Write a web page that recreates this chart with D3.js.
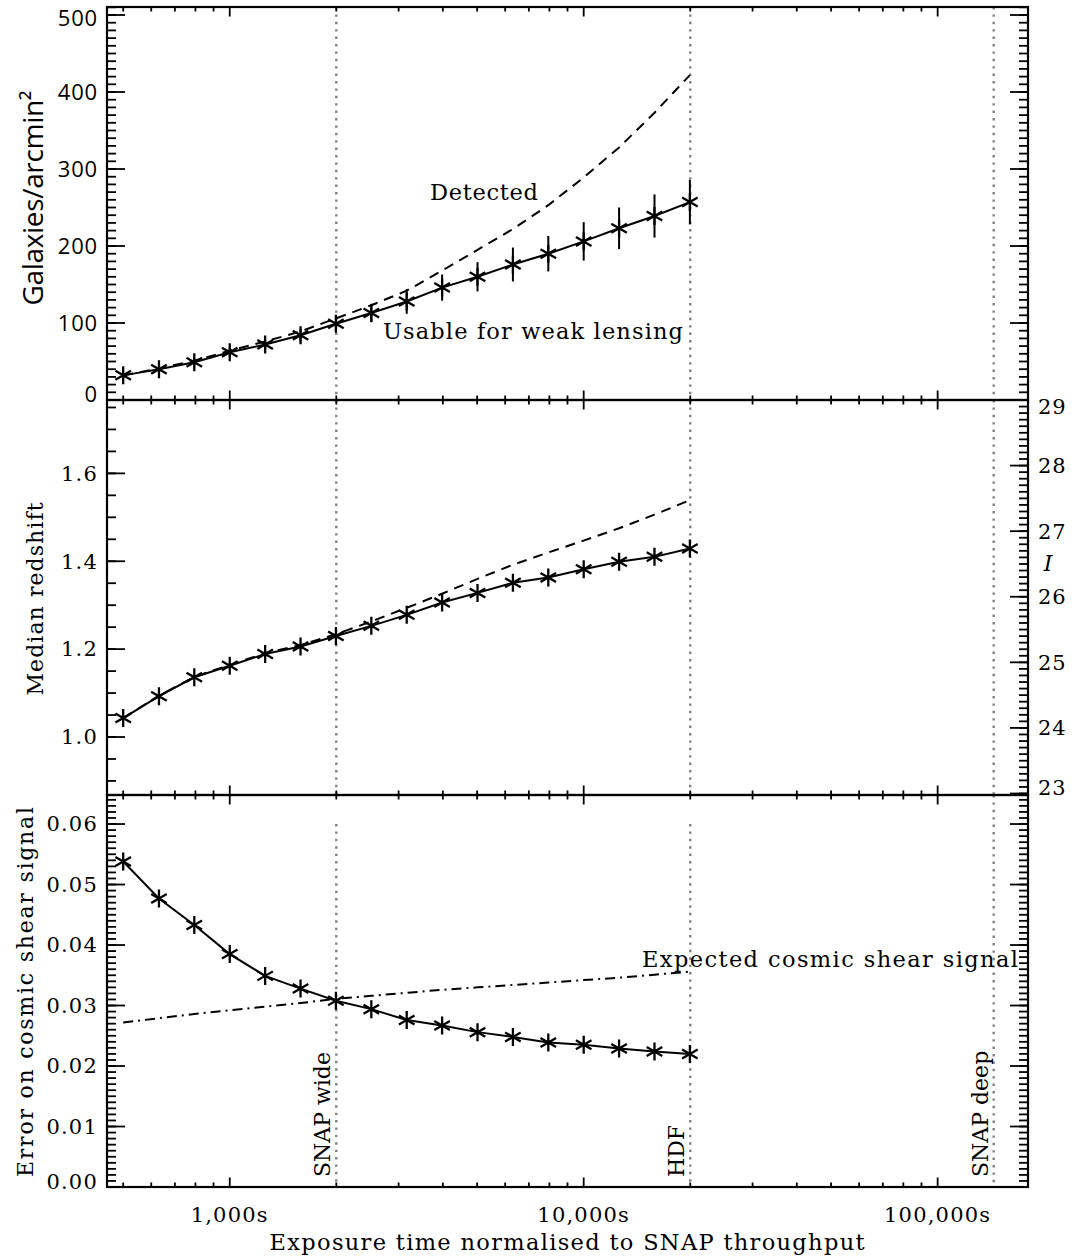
<!DOCTYPE html>
<html>
<head>
<meta charset="utf-8">
<script src="https://cdn.jsdelivr.net/npm/d3@7"></script>
<style>
  body { margin: 0; background: #fff; }
  svg { display: block; }
</style>
</head>
<body>
<div id="chart"></div>
<script>
// exposure times (s), one star per step of 0.1 dex
const exposure = [500, 631, 794, 1000, 1259, 1585, 1995, 2512, 3162, 3981, 5012, 6310, 7943, 10000, 12589, 15849, 19953];

// top panel: galaxies / arcmin^2
const usableDensity = [32, 40, 49, 62, 72, 84, 99, 113, 128, 146, 160, 176, 190, 206, 223, 239, 257];
const usableError = [3, 4, 5, 6, 7, 8, 9, 12, 16, 17, 19, 22, 23, 25, 27, 28, 29];
const detectedDensity = [32, 41, 51, 64, 76, 89, 106, 123, 142, 168, 195, 222, 253, 289, 328, 373, 422];

// middle panel: median redshift
const usableRedshift = [1.043, 1.093, 1.136, 1.162, 1.189, 1.206, 1.230, 1.253, 1.278, 1.306, 1.328, 1.351, 1.363, 1.382, 1.399, 1.410, 1.429];
const detectedRedshift = [1.043, 1.094, 1.137, 1.164, 1.191, 1.209, 1.234, 1.263, 1.294, 1.326, 1.360, 1.392, 1.420, 1.447, 1.475, 1.506, 1.539];

// bottom panel: error on cosmic shear vs expected signal
const shearError = [0.0538, 0.0477, 0.0433, 0.0385, 0.0349, 0.0328, 0.0308, 0.0294, 0.0276, 0.0267, 0.0256, 0.0248, 0.0239, 0.0235, 0.0229, 0.0224, 0.0220];
const shearSignal = [0.0272, 0.0279, 0.0286, 0.0292, 0.0298, 0.0304, 0.0311, 0.0316, 0.0321, 0.0326, 0.0330, 0.0334, 0.0338, 0.0342, 0.0346, 0.0351, 0.0356];

// marker lines
const surveyTimes = [2000, 20000, 144000];
const surveyNames = ["SNAP wide", "HDF", "SNAP deep"];

// tick labels
const xTickValues = [1000, 10000, 100000];
const xTickLabels = ["1,000s", "10,000s", "100,000s"];
const densityTicks = [0, 100, 200, 300, 400, 500];
const redshiftTicks = [1.0, 1.2, 1.4, 1.6];
const magTicks = [23, 24, 25, 26, 27, 28, 29];
const shearTicks = [0, 0.01, 0.02, 0.03, 0.04, 0.05, 0.06];

const width = 1082;
const height = 1257;
const left = 107;
const right = 1028;
const serif = "'DejaVu Serif', serif";
const sans = "'Open Sans', sans-serif";

const svg = d3.select("#chart")
  .append("svg")
  .attr("width", width)
  .attr("height", height)
  .attr("viewBox", `0 0 ${width} ${height}`);

const x = d3.scaleLog().domain([450, 180000]).range([left, right]);
const xMinor = x.ticks().filter((t) => !xTickValues.includes(t));

const panels = [
  { top: 7, bottom: 400 },
  { top: 400, bottom: 795 },
  { top: 795, bottom: 1187 }
];
const y1 = d3.scaleLinear().domain([0, 510.4]).range([400, 7]);
const y2 = d3.scaleLinear().domain([0.868, 1.767]).range([795, 400]);
const yMag = d3.scaleLinear().domain([29, 23]).range([400, 793.5]);
const y3 = d3.scaleLinear().domain([0, 0.0648]).range([1187, 795]);

const rows = exposure.map((t, i) => ({
  t,
  usable: usableDensity[i],
  err: usableError[i],
  detected: detectedDensity[i],
  zUsable: usableRedshift[i],
  zDetected: detectedRedshift[i],
  shear: shearError[i],
  signal: shearSignal[i]
}));

// ---- dotted survey lines ----
surveyTimes.forEach((t, i) => {
  panels.forEach((p, k) => {
    let top = p.top;
    if (k === 2 && t < 100000) top = y3(0.06);
    svg.append("line")
      .attr("x1", x(t)).attr("x2", x(t))
      .attr("y1", top).attr("y2", p.bottom)
      .attr("stroke", "#808080")
      .attr("stroke-width", 2.4)
      .attr("stroke-dasharray", "2.4 5");
  });
  svg.append("text")
    .attr("transform", `translate(${x(t) - 6},1177) rotate(-90)`)
    .attr("font-family", serif)
    .attr("font-size", 22)
    .attr("fill", "#000")
    .text(surveyNames[i]);
});

// ---- axes (inward ticks on every side) ----
function xTicks(yPos, dir) {
  const g = svg.append("g");
  g.selectAll("line.minor").data(xMinor).join("line")
    .attr("x1", (d) => x(d)).attr("x2", (d) => x(d))
    .attr("y1", yPos).attr("y2", yPos + dir * 4.5)
    .attr("stroke", "#000").attr("stroke-width", 1.8);
  g.selectAll("line.major").data(xTickValues).join("line")
    .attr("x1", (d) => x(d)).attr("x2", (d) => x(d))
    .attr("y1", yPos).attr("y2", yPos + dir * 9.5)
    .attr("stroke", "#000").attr("stroke-width", 1.8);
}

function yTicks(scale, major, minor, xPos, dir) {
  const g = svg.append("g");
  g.selectAll("line.minor").data(minor).join("line")
    .attr("x1", xPos).attr("x2", xPos + dir * 9)
    .attr("y1", (d) => scale(d)).attr("y2", (d) => scale(d))
    .attr("stroke", "#000").attr("stroke-width", 1.8);
  g.selectAll("line.major").data(major).join("line")
    .attr("x1", xPos).attr("x2", xPos + dir * 18)
    .attr("y1", (d) => scale(d)).attr("y2", (d) => scale(d))
    .attr("stroke", "#000").attr("stroke-width", 1.8);
}

function inRange(scale, start, stop, step) {
  const [a, b] = d3.extent(scale.domain());
  return d3.range(start, stop + step / 2, step)
    .map((v) => +v.toFixed(4))
    .filter((v) => v >= a - 1e-9 && v <= b + 1e-9);
}

panels.forEach((p) => {
  xTicks(p.bottom, -1);
  xTicks(p.top, 1);
});

yTicks(y1, densityTicks, inRange(y1, 0, 510, 10), left, 1);
yTicks(y1, densityTicks, inRange(y1, 0, 510, 10), right, -1);
yTicks(y2, redshiftTicks, inRange(y2, 0.85, 1.8, 0.05), left, 1);
yTicks(yMag, magTicks, inRange(yMag, 22.9, 29, 0.1), right, -1);
yTicks(y3, shearTicks, inRange(y3, 0, 0.065, 0.001), left, 1);
yTicks(y3, shearTicks, inRange(y3, 0, 0.065, 0.001), right, -1);

panels.forEach((p) => {
  svg.append("rect")
    .attr("x", left).attr("y", p.top)
    .attr("width", right - left).attr("height", p.bottom - p.top)
    .attr("fill", "none").attr("stroke", "#000").attr("stroke-width", 2.2);
});

// ---- tick labels ----
function leftLabels(scale, values, fmt, font, size, bottomShift, topShift) {
  const last = values.length - 1;
  svg.append("g").selectAll("text").data(values).join("text")
    .attr("x", 98)
    .attr("y", (d, i) => scale(d) + (i === 0 ? bottomShift : i === last ? topShift : 0))
    .attr("dy", "0.35em")
    .attr("text-anchor", "end")
    .attr("font-family", font)
    .attr("font-size", size)
    .attr("letter-spacing", font === serif ? 1.2 : 0.8)
    .text(fmt);
}
leftLabels(y1, densityTicks, d3.format("d"), sans, 22, -6, 3);
leftLabels(y2, redshiftTicks, d3.format(".1f"), serif, 21, 0, 0);
leftLabels(y3, shearTicks, d3.format(".2f"), serif, 21, -5, 0);

svg.append("g").selectAll("text").data(magTicks).join("text")
  .attr("x", 1038)
  .attr("y", (d) => yMag(d) + (d === 29 ? 7 : d === 23 ? -6 : 0))
  .attr("dy", "0.35em")
  .attr("font-family", serif)
  .attr("font-size", 21)
  .attr("letter-spacing", 1)
  .text((d) => d);

svg.append("text")
  .attr("x", 1048).attr("y", 563).attr("dy", "0.35em")
  .attr("text-anchor", "middle")
  .attr("font-family", serif)
  .attr("font-style", "italic")
  .attr("font-size", 22)
  .text("I");

svg.append("g").selectAll("text").data(xTickValues).join("text")
  .attr("x", (d) => x(d))
  .attr("y", 1222)
  .attr("text-anchor", "middle")
  .attr("font-family", serif)
  .attr("font-size", 21)
  .attr("letter-spacing", 1.2)
  .text((d, i) => xTickLabels[i]);

// ---- axis titles ----
svg.append("text")
  .attr("x", 567).attr("y", 1250)
  .attr("text-anchor", "middle")
  .attr("font-family", serif).attr("font-size", 22.5)
  .attr("textLength", 595).attr("lengthAdjust", "spacing")
  .text("Exposure time normalised to SNAP throughput");

function yTitle(text, cx, cy, len, font, size) {
  svg.append("text")
    .attr("transform", `translate(${cx},${cy}) rotate(-90)`)
    .attr("text-anchor", "middle")
    .attr("font-family", font).attr("font-size", size)
    .attr("textLength", len).attr("lengthAdjust", "spacing")
    .text(text);
}
yTitle("Galaxies/arcmin²", 43, 198, 215, sans, 28);
yTitle("Median redshift", 43, 599, 193, serif, 22);
yTitle("Error on cosmic shear signal", 33, 992, 370, serif, 22);

// ---- data ----
const star = {
  draw(ctx, size) {
    const r = Math.sqrt(size);
    [90, 30, -30].forEach((a) => {
      const dx = r * Math.cos((a * Math.PI) / 180);
      const dy = r * Math.sin((a * Math.PI) / 180);
      ctx.moveTo(dx, -dy);
      ctx.lineTo(-dx, dy);
    });
  }
};
const starPath = d3.symbol().type(star).size(81)();

function series(yScale, key, dash, withStars) {
  const line = d3.line().x((d) => x(d.t)).y((d) => yScale(d[key]));
  svg.append("path")
    .datum(rows)
    .attr("fill", "none")
    .attr("stroke", "#000")
    .attr("stroke-width", 2)
    .attr("stroke-dasharray", dash)
    .attr("d", line);
  if (withStars) {
    svg.append("g").selectAll("path").data(rows).join("path")
      .attr("transform", (d) => `translate(${x(d.t)},${yScale(d[key])})`)
      .attr("d", starPath)
      .attr("fill", "none")
      .attr("stroke", "#000")
      .attr("stroke-width", 2.3);
  }
}

series(y1, "detected", "10 7", false);
series(y1, "usable", null, true);
svg.append("g").selectAll("line").data(rows).join("line")
  .attr("x1", (d) => x(d.t)).attr("x2", (d) => x(d.t))
  .attr("y1", (d) => y1(d.usable - d.err))
  .attr("y2", (d) => y1(d.usable + d.err))
  .attr("stroke", "#000").attr("stroke-width", 2);

series(y2, "zDetected", "10 7", false);
series(y2, "zUsable", null, true);

series(y3, "signal", "10 5 2 5", false);
series(y3, "shear", null, true);

// ---- annotations ----
function note(text, x0, yb, len) {
  svg.append("text")
    .attr("x", x0).attr("y", yb)
    .attr("font-family", serif).attr("font-size", 22.5)
    .attr("textLength", len).attr("lengthAdjust", "spacing")
    .text(text);
}
note("Detected", 430, 200, 108);
note("Usable for weak lensing", 383, 339, 300);
note("Expected cosmic shear signal", 642, 967, 376);
</script>
</body>
</html>
